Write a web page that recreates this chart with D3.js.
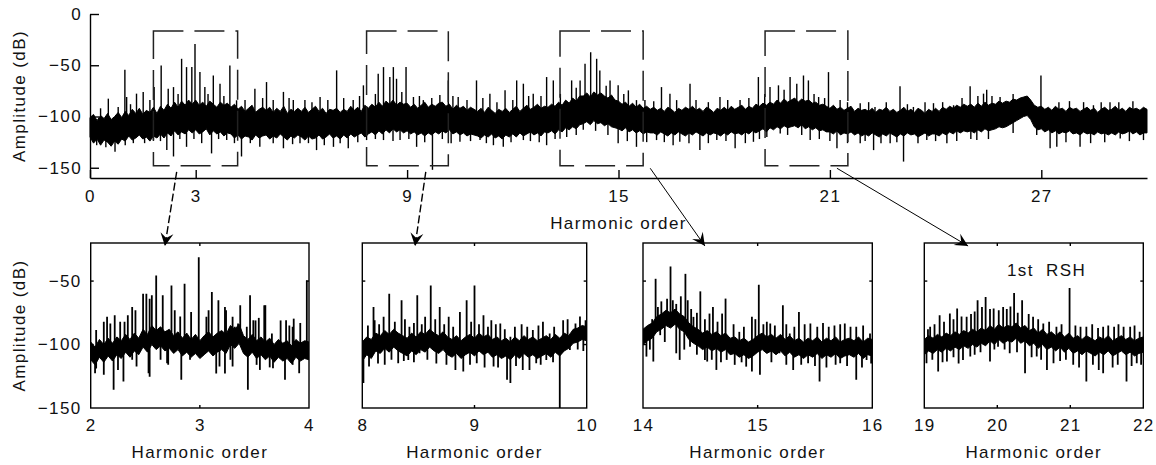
<!DOCTYPE html>
<html>
<head>
<meta charset="utf-8">
<title>Harmonic spectrum</title>
<script src="https://d3js.org/d3.v7.min.js"></script>
<style>
  body { margin: 0; background: #fff; overflow: hidden; }
  svg { display: block; }
  text { font-family: "Liberation Sans", Arial, sans-serif; font-size: 17px; fill: #111; letter-spacing: 1.4px; }
  .domain, .tick line { stroke: #000; stroke-width: 1.4px; }
  .band { fill: #000; stroke: #000; stroke-width: 1px; stroke-linejoin: miter; }
  .peak { stroke: #000; }
</style>
</head>
<body>
<svg width="1156" height="465"></svg>
<script>
// DATA ========================================================
// dense part of the spectrum, upper and lower edge in dB, one value every 0.1 order (0..30)
const topStart = 0, topStep = 0.1;
const topHigh = [
  -101,-98,-104,-99,-102,-97,-103,-100,-96,-101,
  -95,-99,-93,-97,-92,-98,-94,-96,-91,-97,
  -90,-94,-88,-92,-86,-91,-85,-89,-84,-88,
  -84,-89,-86,-90,-85,-88,-91,-86,-89,-87,
  -91,-88,-93,-90,-95,-92,-89,-96,-93,-91,
  -94,-91,-96,-92,-95,-90,-97,-93,-95,-92,
  -95,-91,-96,-93,-90,-95,-92,-97,-93,-94,
  -92,-96,-93,-95,-90,-94,-91,-95,-89,-92,
  -88,-91,-86,-90,-85,-88,-84,-89,-86,-88,
  -87,-91,-88,-92,-89,-86,-91,-88,-90,-87,
  -86,-90,-88,-93,-89,-92,-90,-94,-91,-93,
  -95,-92,-96,-91,-94,-97,-93,-95,-92,-96,
  -93,-90,-95,-92,-89,-93,-91,-88,-92,-90,
  -91,-88,-90,-86,-89,-84,-87,-82,-85,-80,
  -80,-77,-81,-76,-79,-77,-80,-82,-79,-84,
  -85,-88,-86,-90,-87,-91,-88,-92,-90,-93,
  -91,-94,-92,-95,-91,-93,-96,-92,-94,-91,
  -93,-90,-94,-92,-95,-91,-93,-96,-92,-94,
  -91,-94,-90,-93,-91,-89,-93,-90,-92,-88,
  -90,-87,-89,-86,-88,-84,-87,-83,-86,-84,
  -82,-86,-83,-85,-84,-87,-86,-89,-88,-90,
  -92,-89,-93,-91,-94,-92,-90,-95,-92,-94,
  -93,-95,-92,-96,-93,-94,-91,-95,-93,-96,
  -94,-91,-95,-93,-96,-92,-94,-97,-93,-95,
  -92,-95,-91,-93,-90,-92,-89,-91,-88,-90,
  -88,-91,-87,-90,-86,-89,-87,-88,-85,-87,
  -85,-86,-83,-84,-82,-81,-80,-84,-89,-91,
  -90,-93,-91,-94,-90,-93,-92,-95,-91,-93,
  -92,-95,-93,-91,-94,-92,-96,-93,-91,-94,
  -93,-90,-94,-92,-95,-91,-93,-92,-94,-91,-93
];
const topLow = [
  -120,-126,-122,-128,-123,-125,-129,-124,-127,-122,
  -124,-119,-123,-121,-118,-122,-120,-124,-119,-121,
  -117,-121,-116,-119,-114,-118,-115,-117,-113,-116,
  -113,-117,-115,-112,-118,-114,-117,-115,-119,-116,
  -117,-121,-118,-122,-119,-120,-123,-118,-121,-119,
  -118,-122,-119,-121,-117,-120,-123,-119,-121,-118,
  -120,-123,-119,-122,-121,-118,-122,-120,-117,-121,
  -119,-122,-118,-121,-117,-120,-118,-116,-120,-117,
  -115,-118,-114,-117,-113,-116,-112,-115,-113,-116,
  -114,-117,-115,-118,-116,-119,-116,-118,-115,-117,
  -114,-116,-113,-117,-115,-118,-116,-119,-117,-118,
  -119,-121,-118,-120,-117,-121,-119,-122,-118,-120,
  -117,-120,-116,-119,-117,-115,-118,-116,-119,-115,
  -116,-114,-117,-113,-115,-111,-113,-110,-112,-108,
  -107,-105,-108,-104,-107,-106,-109,-107,-110,-111,
  -112,-114,-111,-115,-113,-116,-114,-117,-115,-116,
  -116,-118,-115,-117,-119,-116,-118,-115,-117,-119,
  -116,-118,-115,-117,-119,-116,-118,-116,-117,-119,
  -116,-118,-115,-117,-116,-118,-115,-117,-114,-116,
  -114,-112,-115,-111,-113,-110,-112,-109,-111,-110,
  -109,-111,-108,-112,-110,-113,-111,-114,-113,-115,
  -115,-117,-114,-118,-116,-117,-115,-118,-116,-119,
  -117,-119,-116,-118,-120,-117,-119,-116,-118,-120,
  -117,-119,-116,-118,-117,-120,-118,-116,-119,-117,
  -117,-119,-116,-118,-115,-117,-114,-116,-114,-115,
  -114,-116,-113,-115,-112,-114,-113,-112,-110,-111,
  -110,-108,-106,-104,-102,-100,-99,-103,-110,-113,
  -112,-115,-113,-116,-114,-117,-115,-116,-114,-117,
  -116,-118,-115,-117,-116,-118,-115,-117,-116,-118,
  -116,-118,-115,-117,-116,-114,-117,-115,-118,-116,-116
];
// single lines sticking out of the dense part: [harmonic order, dB]
const topPeaks = [
  [0.52,-82.6],[0.80,-90.7],[0.99,-54.4],[1.04,-81],[1.32,-77.7],[1.51,-76],[1.82,-71.3],
  [2.02,-50.2],[2.22,-72.9],[2.37,-71.3],[2.60,-43.7],[2.74,-51.8],[2.89,-51.8],[2.98,-29.2],
  [3.12,-56.7],[3.26,-71.3],[3.50,-60],[3.69,-68],[3.97,-50.2],[4.16,-84.2],[4.68,-72.9],
  [5.01,-66.4],[5.49,-76],[5.77,-84],[6.53,-81],[7.00,-55],[7.47,-84],[7.76,-69.6],
  [8.18,-58.3],[8.33,-51.8],[8.51,-61.5],[8.61,-51.8],[8.70,-63.2],[8.97,-51.8],[9.18,-81],
  [9.46,-84],[9.93,-79],[10.17,-64.8],[10.45,-81],[10.97,-64.8],[11.35,-77.7],[11.78,-74.5],
  [12.11,-64.8],[12.30,-68],[12.58,-77.7],[12.96,-61.5],[13.15,-64.8],[13.67,-64.8],
  [13.91,-64.8],[14.05,-48.6],[14.21,-37.3],[14.38,-43.7],[14.47,-55],[14.76,-64.8],
  [14.99,-69.6],[15.28,-74.5],[15.51,-84],[16.22,-71.3],[16.46,-77.7],[17.03,-68],
  [17.88,-81],[18.45,-84],[18.97,-61.5],[19.30,-71.3],[19.54,-69.6],[19.87,-61.5],
  [20.06,-68],[20.25,-60],[20.39,-64.8],[20.68,-81],[20.96,-56.7],[21.29,-84],[21.86,-87],
  [22.28,-90.7],[22.99,-70.6],[23.37,-90.7],[23.94,-87],[24.51,-89],[24.98,-70.6],
  [25.36,-77.7],[25.45,-73.9],[25.83,-81],[26.99,-60],[28.48,-89],[28.95,-86],
  [0.19,-128],[0.71,-134.4],[1.23,-126],[1.80,-123],[2.18,-132.8],[2.37,-139],[2.74,-129.6],
  [3.17,-126],[3.45,-136],[3.88,-123],[4.30,-139],[4.82,-129.6],[5.49,-131],[5.96,-126],
  [6.43,-132.8],[6.91,-129.6],[7.33,-131],[7.85,-123],[8.33,-123],[8.80,-123],[9.27,-129.6],
  [9.72,-152],[10.50,-124.7],[11.07,-123],[11.45,-128],[11.73,-129.6],[12.30,-123],
  [12.96,-128],[13.53,-120],[14.0,-113],[14.99,-126],[15.51,-129.6],[16.08,-123],
  [16.74,-124.7],[17.31,-132.8],[17.79,-123],[18.31,-131],[18.83,-124.7],[19.21,-120],
  [19.59,-116.6],[20.44,-123],[21.2,-131],[21.86,-126],[22.24,-132.8],[22.71,-126],
  [23.09,-144],[23.75,-123],[24.32,-126],[25.17,-123],[26.87,-118],[27.25,-131],
  [27.44,-129.6],[28.1,-129.6],[29.24,-121.5],[29.9,-123]
];
// smaller lines that make the ragged edge of the dense part
const topMinorPeaks = [
  [0.3,-92],[1.15,-88],[1.7,-84],[2.5,-78],[3.35,-78],[3.8,-80],[4.4,-84],[4.9,-82],[5.2,-84],
  [5.65,-82],[6.1,-84],[6.3,-86],[6.75,-84],[7.2,-82],[7.65,-80],[8.1,-78],[8.85,-76],[9.35,-80],
  [9.7,-82],[10.3,-80],[10.7,-84],[11.15,-82],[11.55,-86],[12.0,-84],[12.45,-80],[12.8,-80],
  [13.35,-78],[13.8,-72],[14.65,-70],[15.15,-78],[15.75,-84],[16.0,-85],[16.65,-84],[17.2,-84],
  [17.55,-86],[18.1,-84],[18.7,-82],[19.15,-78],[19.7,-74],[20.55,-78],[20.85,-82],[21.5,-86],
  [22.1,-86],[22.6,-86],[23.2,-88],[23.7,-86],[24.2,-86],[24.75,-82],[25.2,-80],[25.6,-80],
  [26.2,-78],[27.5,-86],[27.8,-85],[28.2,-86],[28.7,-86],[29.2,-86],[29.6,-85],
  [0.45,-130],[1.0,-128],[1.55,-126],[2.0,-124],[2.55,-122],[2.95,-122],[3.65,-122],[4.1,-126],
  [4.55,-126],[5.2,-126],[5.75,-127],[6.2,-126],[6.65,-128],[7.1,-126],[7.6,-125],[8.1,-122],
  [8.6,-124],[9.05,-122],[9.5,-125],[10.0,-122],[10.25,-126],[10.8,-124],[11.25,-126],
  [11.95,-125],[12.5,-124],[12.75,-125],[13.2,-122],[13.8,-118],[14.35,-114],[14.7,-118],
  [15.25,-124],[15.8,-125],[16.3,-125],[16.55,-128],[17.0,-126],[17.55,-126],[18.05,-124],
  [18.6,-126],[19.0,-122],[19.8,-118],[20.2,-118],[20.7,-122],[21.0,-124],[21.5,-126],
  [22.0,-124],[22.45,-126],[22.9,-125],[23.5,-126],[24.0,-124],[24.6,-124],[25.0,-122],
  [25.5,-122],[26.2,-116],[27.7,-125],[28.4,-126],[28.8,-125],[29.5,-124]
];
const topTicksX = [0, 3, 9, 15, 21, 27];
const topTicksY = [-150, -100, -50, 0];
// dashed zoom windows on the top plot: [from, to] in harmonic order, and their dB span
const zoomWindows = [[1.8, 4.19], [7.85, 10.17], [13.34, 15.7], [19.16, 21.51]];
const zoomWindowDb = [-148, -16.5];

const insetDomains = [[2, 4], [8, 10], [14, 16], [19, 22]];
const insetTicks = [[2, 3, 4], [8, 9, 10], [14, 15, 16], [19, 20, 21, 22]];
const insetTicksY = [-150, -100, -50];
// dense part of each zoomed spectrum: 51 values over the inset's range
const inset1High = [
  -98,-102,-96,-100,-95,-99,-94,-97,-92,-96,
  -91,-95,-88,-92,-85,-89,-86,-90,-88,-93,
  -90,-95,-91,-96,-92,-97,-93,-90,-94,-91,
  -89,-92,-85,-88,-84,-93,-96,-92,-97,-94,
  -98,-95,-100,-96,-99,-97,-101,-96,-99,-97,-98
];
const inset1Low = [
  -112,-116,-110,-114,-109,-113,-108,-111,-106,-110,
  -105,-108,-102,-106,-100,-104,-101,-105,-103,-107,
  -104,-109,-106,-110,-107,-111,-108,-105,-109,-106,
  -104,-107,-100,-103,-99,-107,-110,-106,-111,-108,
  -112,-109,-114,-110,-113,-111,-115,-110,-113,-111,-112
];
const inset2High = [
  -98,-94,-96,-91,-93,-89,-92,-88,-91,-93,
  -95,-91,-94,-90,-92,-88,-91,-93,-90,-94,
  -96,-93,-97,-94,-92,-95,-91,-94,-92,-96,
  -94,-97,-95,-98,-94,-97,-93,-96,-94,-97,
  -95,-93,-96,-92,-95,-91,-93,-88,-87,-85,-86
];
const inset2Low = [
  -113,-108,-111,-105,-107,-103,-106,-102,-105,-107,
  -109,-105,-108,-104,-106,-102,-105,-107,-104,-108,
  -110,-107,-111,-108,-106,-109,-105,-108,-106,-110,
  -108,-111,-109,-112,-108,-111,-107,-110,-108,-111,
  -109,-107,-110,-106,-109,-105,-103,-99,-98,-96,-97
];
const inset3High = [
  -88,-85,-83,-78,-76,-73,-75,-72,-76,-78,
  -83,-86,-88,-91,-89,-92,-90,-93,-91,-95,
  -94,-97,-95,-98,-96,-93,-91,-94,-92,-95,
  -92,-96,-93,-97,-95,-98,-95,-97,-94,-98,
  -95,-97,-94,-98,-96,-95,-97,-94,-98,-95,-96
];
const inset3Low = [
  -100,-97,-95,-90,-88,-85,-87,-84,-88,-90,
  -96,-99,-101,-104,-102,-105,-103,-106,-104,-108,
  -107,-110,-108,-111,-109,-106,-104,-107,-105,-108,
  -105,-109,-106,-110,-108,-111,-108,-110,-107,-111,
  -108,-110,-107,-111,-109,-108,-110,-107,-111,-108,-109
];
const inset4High = [
  -96,-93,-95,-92,-94,-91,-93,-90,-92,-89,
  -91,-88,-90,-87,-89,-85,-88,-84,-87,-85,
  -86,-83,-87,-85,-89,-87,-91,-88,-92,-90,
  -93,-90,-94,-91,-95,-93,-96,-93,-95,-97,
  -94,-96,-93,-97,-95,-93,-96,-94,-97,-95,-94
];
const inset4Low = [
  -108,-105,-107,-104,-106,-103,-105,-102,-104,-101,
  -103,-100,-102,-99,-101,-97,-100,-96,-99,-97,
  -98,-95,-99,-97,-101,-99,-103,-100,-104,-102,
  -105,-102,-106,-103,-107,-105,-108,-105,-107,-109,
  -106,-108,-105,-109,-107,-105,-108,-106,-109,-107,-106
];
const inset1Peaks = [
  [2.05,-88.6],[2.12,-82.1],[2.15,-78.2],[2.18,-83.4],[2.22,-76.9],[2.31,-82.1],[2.38,-70.4],
  [2.41,-73],[2.48,-59.9],[2.51,-59.9],[2.56,-61.2],[2.60,-45.6],[2.66,-61.2],[2.74,-53.4],
  [2.77,-73],[2.86,-52.1],[2.92,-74.3],[2.99,-31.2],[3.06,-78.2],[3.11,-58.6],[3.17,-65.1],
  [3.24,-73],[3.30,-78.2],[3.35,-83.4],[3.46,-61.2],[3.49,-80.8],[3.59,-69.1],[3.66,-91.3],
  [3.79,-80.8],[3.85,-86],[3.98,-49.5],
  [2.04,-122.6],[2.12,-123.9],[2.21,-135.6],[2.25,-120],[2.30,-129.1],[2.42,-117.4],
  [2.53,-122.6],[2.70,-114.8],[2.83,-127.8],[3.0,-109.5],[3.18,-117.4],[3.30,-117.4],
  [3.44,-135.6],[3.55,-120],[3.67,-118.7],[3.78,-127.8],[3.91,-122.6],
  [2.27,-82],[2.34,-77],[2.54,-64],[2.82,-78],[3.08,-73],[3.23,-70.4],[3.32,-86],[3.37,-69],
  [3.43,-86],[3.51,-81],[3.54,-79],[3.60,-69],[3.74,-81],[3.82,-85],[3.86,-79.6],[3.92,-83],
  [2.05,-118.8],[2.38,-112],[2.54,-125.4],[2.64,-112],[2.71,-116],[2.91,-112],[3.15,-122.8],
  [3.23,-122.8],[3.28,-112],[3.52,-116],[3.64,-118],[3.85,-116]
];
const inset2Peaks = [
  [8.10,-70.4],[8.11,-80.8],[8.19,-78.2],[8.24,-59.9],[8.35,-65.1],[8.42,-86],[8.49,-61.2],
  [8.56,-78.2],[8.61,-53.4],[8.69,-70.4],[8.77,-78.2],[8.87,-74.3],[8.93,-65.1],[9.0,-53.4],
  [9.08,-76.9],[9.15,-80.8],[9.23,-83.4],[9.32,-93.9],[9.47,-86],[9.52,-88.6],[9.61,-82.1],
  [9.67,-91.3],[9.79,-80.8],[9.90,-83.4],[9.99,-80.8],
  [8.01,-130.4],[8.06,-117.4],[8.20,-116],[8.32,-114.8],[8.41,-112.1],[8.51,-106.9],
  [8.75,-116],[8.83,-120],[8.90,-121.3],[9.02,-114.8],[9.17,-117.4],[9.29,-127.8],
  [9.32,-130.4],[9.49,-120],[9.55,-114.8],[9.64,-112.1],[9.76,-150],[9.85,-104.3],
  [8.05,-85],[8.15,-84],[8.29,-82],[8.38,-80],[8.46,-83],[8.53,-84],[8.65,-80],[8.73,-84],
  [8.81,-86],[8.97,-82],[9.04,-84],[9.12,-86],[9.19,-84],[9.27,-88],[9.36,-86],[9.42,-84],
  [9.57,-85],[9.71,-86],[9.83,-80],[9.94,-78],
  [8.14,-115],[8.26,-112],[8.37,-113],[8.46,-114],[8.58,-112],[8.66,-115],[8.96,-116],
  [9.09,-118],[9.21,-118],[9.37,-117],[9.43,-120],[9.59,-116],[9.70,-114],[9.92,-104],
  [9.97,-105]
];
const inset3Peaks = [
  [14.05,-86],[14.11,-48.2],[14.13,-70.4],[14.18,-75.6],[14.24,-38.5],[14.26,-65.1],
  [14.37,-44.3],[14.39,-65.1],[14.44,-78.2],[14.50,-58.1],[14.58,-75.6],[14.61,-70.4],
  [14.69,-75.6],[14.72,-63.8],[14.84,-90],[14.95,-78.2],[15.01,-52.9],[15.08,-82.1],
  [15.11,-83.4],[15.22,-69.1],[15.28,-91.3],[15.36,-74.3],[15.46,-83.4],[15.62,-86],
  [15.76,-83.4],[15.86,-86],[15.98,-91.3],
  [14.03,-109.5],[14.09,-113.4],[14.15,-92.6],[14.29,-106.9],[14.32,-112.1],[14.41,-101.7],
  [14.54,-112.1],[14.56,-113.4],[14.64,-120],[14.73,-112.1],[14.90,-117.4],[14.95,-121.3],
  [15.02,-123.9],[15.08,-104.3],[15.19,-106.9],[15.31,-120],[15.44,-114.8],[15.54,-129.1],
  [15.72,-114.8],[15.86,-127.8],[15.95,-112.1],
  [14.08,-80],[14.16,-66],[14.21,-64],[14.29,-68],[14.33,-62],[14.42,-72],[14.47,-75],
  [14.54,-80],[14.65,-82],[14.79,-84],[14.88,-86],[14.98,-80],[15.05,-84],[15.15,-85],
  [15.25,-84],[15.32,-86],[15.41,-84],[15.52,-86],[15.57,-83],[15.67,-85],[15.72,-84],
  [15.81,-86],[15.92,-85],
  [14.06,-104],[14.19,-98],[14.36,-104],[14.47,-108],[14.60,-112],[14.68,-114],[14.80,-116],
  [14.86,-114],[15.12,-114],[15.25,-116],[15.38,-116],[15.50,-117],[15.60,-118],[15.68,-116],
  [15.78,-117],[15.91,-118],[15.99,-115]
];
const inset4Peaks = [
  [19.08,-86],[19.21,-76.9],[19.35,-75.6],[19.45,-71.7],[19.58,-78.2],[19.73,-65.1],
  [19.79,-70.4],[19.84,-62.5],[19.95,-71.7],[20.08,-70.4],[20.23,-59.4],[20.34,-65.1],
  [20.49,-78.2],[20.63,-83.4],[20.81,-86],[20.99,-55.5],[21.22,-86],[21.45,-86],
  [21.73,-86],[21.95,-90],
  [19.03,-114.8],[19.19,-121.3],[19.31,-113.4],[19.53,-112.1],[19.63,-109.5],[19.9,-113.4],
  [20.01,-101.7],[20.17,-106.9],[20.38,-122.6],[20.54,-109.5],[20.68,-120],[20.77,-114.8],
  [21.22,-129.1],[21.45,-122.6],[21.77,-129.1],[21.91,-114.8],
  [19.05,-88],[19.14,-84],[19.27,-82],[19.40,-80],[19.51,-78],[19.64,-76],[19.69,-74],
  [19.90,-72],[20.02,-73],[20.13,-72],[20.18,-70],[20.28,-75],[20.43,-76],[20.56,-80],
  [20.71,-82],[20.88,-84],[21.07,-85],[21.14,-86],[21.30,-84],[21.38,-87],[21.52,-85],
  [21.60,-86],[21.66,-84],[21.82,-86],[21.88,-85],
  [19.11,-112],[19.25,-114],[19.40,-110],[19.47,-115],[19.69,-108],[19.77,-106],[19.96,-104],
  [20.10,-104],[20.27,-106],[20.47,-110],[20.60,-112],[20.86,-113],[20.94,-112],[21.04,-116],
  [21.12,-118],[21.31,-116],[21.39,-120],[21.58,-118],[21.65,-116],[21.84,-117],[21.97,-116]
];
const insetHigh = [inset1High, inset2High, inset3High, inset4High];
const insetLow = [inset1Low, inset2Low, inset3Low, inset4Low];
const insetPeaks = [inset1Peaks, inset2Peaks, inset3Peaks, inset4Peaks];

// arrows: start on the top plot [order, dB], end at an order inside each inset
const arrowFrom = [[2.46, -154], [9.53, -154], [15.9, -150.5], [21.2, -150.5]];
const arrowTo = [2.68, 8.47, 14.54, 19.6];
const arrowDashed = [true, true, false, false];

// LAYOUT ======================================================
const svg = d3.select("svg");
const topLeft = 90, topRight = 1147, topTop = 14, topBottom = 178;
const insetLeft = [90.7, 362.3, 643, 924.3];
const insetRight = [309, 586.7, 872.3, 1143.3];
const insetTop = 243, insetBottom = 408;

const xTop = d3.scaleLinear().domain([0, 30]).range([topLeft, topRight]);
const yTop = d3.scaleLinear().domain([-160, 0]).range([topBottom, topTop]);
const yIn = d3.scaleLinear().domain([-150, -20]).range([insetBottom, insetTop]);

svg.append("defs").append("marker")
    .attr("id", "head")
    .attr("markerUnits", "userSpaceOnUse")
    .attr("viewBox", "-14 -8 16 16")
    .attr("markerWidth", 16).attr("markerHeight", 16)
    .attr("refX", 0).attr("refY", 0)
    .attr("orient", "auto")
  .append("path")
    .attr("d", "M0,0 L-13,-6.5 L-8,0 L-13,6.5 Z")
    .attr("fill", "#000");

// rows [order, low, high] from the edge lists
function bandRows(start, step, low, high) {
    return low.map((v, i) => [start + i * step, v, high[i]]);
}

const bisect = d3.bisector(d => d[0]).left;
function bandMid(band, h) {
    const i = Math.max(1, Math.min(band.length - 1, bisect(band, h)));
    const a = band[i - 1], b = band[i];
    const t = (h - a[0]) / (b[0] - a[0]);
    return ((a[1] + a[2]) / 2) * (1 - t) + ((b[1] + b[2]) / 2) * t;
}

function drawSpectrum(g, band, peaks, x, y, peakWidth) {
    g.append("path")
        .attr("class", "band")
        .attr("d", d3.area()
            .x(d => x(d[0]))
            .y0(d => y(d[1]))
            .y1(d => y(d[2]))(band));
    g.selectAll(".peak")
        .data(peaks)
        .join("line")
        .attr("class", "peak")
        .attr("stroke-width", peakWidth)
        .attr("x1", d => x(d[0])).attr("x2", d => x(d[0]))
        .attr("y1", d => y(bandMid(band, d[0])))
        .attr("y2", d => y(d[1]));
}

// TOP PLOT ====================================================
const topG = svg.append("g");
drawSpectrum(topG, bandRows(topStart, topStep, topLow, topHigh),
    topPeaks.concat(topMinorPeaks), xTop, yTop, 1.4);

topG.append("g")
    .attr("transform", `translate(0,${topBottom})`)
    .call(d3.axisBottom(xTop).tickValues(topTicksX).tickFormat(d3.format("d"))
        .tickSizeInner(-8).tickSizeOuter(0).tickPadding(12))
    .call(g => g.selectAll("text").attr("font-family", null).attr("font-size", null));
topG.append("g")
    .attr("transform", `translate(${topLeft},0)`)
    .call(d3.axisLeft(yTop).tickValues(topTicksY).tickSizeInner(-9).tickSizeOuter(0).tickPadding(8))
    .call(g => g.selectAll("text").attr("font-family", null).attr("font-size", null));

topG.append("text")
    .attr("x", (topLeft + topRight) / 2).attr("y", 229)
    .attr("text-anchor", "middle")
    .text("Harmonic order");
topG.append("text")
    .attr("transform", `translate(25,${(topTop + topBottom) / 2}) rotate(-90)`)
    .attr("text-anchor", "middle")
    .text("Amplitude (dB)");

topG.selectAll(".zoomwin")
    .data(zoomWindows)
    .join("rect")
    .attr("x", d => xTop(d[0]))
    .attr("width", d => xTop(d[1]) - xTop(d[0]))
    .attr("y", yTop(zoomWindowDb[1]))
    .attr("height", yTop(zoomWindowDb[0]) - yTop(zoomWindowDb[1]))
    .attr("fill", "none")
    .attr("stroke", "#222")
    .attr("stroke-width", 1.5)
    .attr("stroke-dasharray", "30,11");

// INSETS ======================================================
insetDomains.forEach((dom, i) => {
    const x = d3.scaleLinear().domain(dom).range([insetLeft[i], insetRight[i]]);
    const g = svg.append("g");
    const clipId = "clip" + i;
    g.append("clipPath").attr("id", clipId).append("rect")
        .attr("x", insetLeft[i]).attr("y", insetTop - 1)
        .attr("width", insetRight[i] - insetLeft[i]).attr("height", insetBottom - insetTop + 2);
    const dataG = g.append("g").attr("clip-path", `url(#${clipId})`);
    const step = (dom[1] - dom[0]) / (insetHigh[i].length - 1);
    drawSpectrum(dataG, bandRows(dom[0], step, insetLow[i], insetHigh[i]), insetPeaks[i], x, yIn, 1.8);

    g.append("rect")
        .attr("x", insetLeft[i]).attr("y", insetTop)
        .attr("width", insetRight[i] - insetLeft[i]).attr("height", insetBottom - insetTop)
        .attr("fill", "none").attr("stroke", "#000").attr("stroke-width", 1.4);

    const inner = insetTicks[i].slice(1, -1);
    g.append("g")
        .attr("transform", `translate(0,${insetBottom})`)
        .call(d3.axisBottom(x).tickValues(insetTicks[i]).tickFormat(d3.format("d"))
            .tickSizeInner(0).tickSizeOuter(0).tickPadding(11))
        .call(g => g.select(".domain").remove())
        .call(g => g.selectAll("text").attr("font-family", null).attr("font-size", null));
    // small inward ticks on all four sides
    g.selectAll(".tkx")
        .data(inner.flatMap(v => [[v, insetBottom, -3], [v, insetTop, 3]]))
        .join("line")
        .attr("x1", d => x(d[0])).attr("x2", d => x(d[0]))
        .attr("y1", d => d[1]).attr("y2", d => d[1] + d[2])
        .attr("stroke", "#000").attr("stroke-width", 1.4);
    g.selectAll(".tky")
        .data([-100, -50].flatMap(v => [[v, insetLeft[i], 3], [v, insetRight[i], -3]]))
        .join("line")
        .attr("y1", d => yIn(d[0])).attr("y2", d => yIn(d[0]))
        .attr("x1", d => d[1]).attr("x2", d => d[1] + d[2])
        .attr("stroke", "#000").attr("stroke-width", 1.4);

    g.append("text")
        .attr("x", (insetLeft[i] + insetRight[i]) / 2).attr("y", 458)
        .attr("text-anchor", "middle")
        .text("Harmonic order");

    if (i === 0) {
        g.append("g")
            .attr("transform", `translate(${insetLeft[i]},0)`)
            .call(d3.axisLeft(yIn).tickValues(insetTicksY).tickSizeInner(0).tickSizeOuter(0).tickPadding(9))
            .call(g => g.select(".domain").remove())
            .call(g => g.selectAll("text").attr("font-family", null).attr("font-size", null));
        g.append("text")
            .attr("transform", `translate(25,${(insetTop + insetBottom) / 2}) rotate(-90)`)
            .attr("text-anchor", "middle")
            .text("Amplitude (dB)");
    }
    if (i === 3) {
        g.append("text")
            .attr("x", 1007).attr("y", 276)
            .style("white-space", "pre")
            .text("1st  RSH");
    }

    // arrow from the dashed window to this inset
    const from = arrowFrom[i];
    svg.append("line")
        .attr("x1", xTop(from[0])).attr("y1", yTop(from[1]))
        .attr("x2", x(arrowTo[i])).attr("y2", insetTop + 3)
        .attr("stroke", "#000")
        .attr("stroke-width", arrowDashed[i] ? 1.4 : 1)
        .attr("stroke-dasharray", arrowDashed[i] ? "8,3" : null)
        .attr("marker-end", "url(#head)");
});
</script>
</body>
</html>
